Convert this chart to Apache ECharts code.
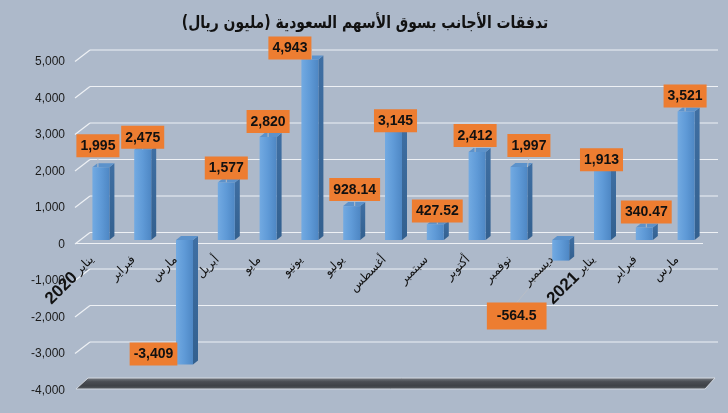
<!DOCTYPE html>
<html><head><meta charset="utf-8">
<script src="https://cdn.jsdelivr.net/npm/echarts@6/dist/echarts.min.js"></script>
<style>html,body{margin:0;padding:0;background:#ADB9CA;}#c{width:728px;height:413px;}</style>
</head><body><div id="c"></div>
<script>
const titleText = 'تدفقات الأجانب بسوق الأسهم السعودية (مليون ريال)\u200F';
const categories = ['يناير 2020','فبراير','مارس','أبريل','مايو','يونيو','يوليو','أغسطس','سبتمبر','أكتوبر','نوفمبر','ديسمبر','يناير 2021','فبراير','مارس'];
const flows = [1995, 2475, -3409, 1577, 2820, 4943, 928.14, 3145, 427.52, 2412, 1997, -564.5, 1913, 340.47, 3521];
const valueLabels = ['1,995','2,475','-3,409','1,577','2,820','4,943','928.14','3,145','427.52','2,412','1,997','-564.5','1,913','340.47','3,521'];
const yTicks = [-4000,-3000,-2000,-1000,0,1000,2000,3000,4000,5000];
const yTickLabels = ['-4,000','-3,000','-2,000','-1,000','0','1,000','2,000','3,000','4,000','5,000'];
// layout: label displacement in px from default placement
const labelShift = [[-3,-10],[0,-1],[-31,-22],[0,-3],[0,-4],[-20,0],[3,-5],[2,7],[2,-2],[-2,-5],[10,-10],[-44,42],[-1,1],[2,-4],[-1,-4]];

const BAR_W = 17, DX = 5, DY = -4;
const chart = echarts.init(document.getElementById('c'), null, {renderer:'canvas'});
const arFont = 'DejaVu Sans';

function catLabel(s) {
  const m = s.match(/^(\S+) (\d{4})$/);
  if (m) return '{y|' + m[2] + '} {m|' + m[1] + '}';
  return '{m|' + s + '}';
}

chart.setOption({
  backgroundColor: '#ADB9CA',
  animation: false,
  graphic: [{
    type: 'text', x: 365, y: 24, scaleX: 0.82, z: 10,
    style: {text: titleText, font: 'bold 17px "DejaVu Sans"', fill: '#111', align: 'center', verticalAlign: 'middle'}
  }],
  grid: {left: 80, right: 21, top: 57.5, bottom: 27, containLabel: false, outerBoundsMode: 'none'},
  xAxis: {
    type: 'category', data: categories,
    axisLine: {show: false}, axisTick: {show: false}, axisLabel: {show: false}, splitLine: {show: false}
  },
  yAxis: {
    type: 'value', min: -4000, max: 5000, interval: 1000,
    axisLine: {show: false}, axisTick: {show: false}, splitLine: {show: false}, axisLabel: {show: false}
  },
  series: [
    {
      type: 'custom', z: 0, silent: true,
      data: yTicks.map(v => [0, v]),
      renderItem: function (params, api) {
        const v = api.value(1);
        const y = api.coord([0, v])[1];
        const cs = params.coordSys;
        const L = cs.x, R = cs.x + cs.width;
        const k = yTicks.indexOf(v);
        const children = [
          {type: 'text', x: L - 15, y: y + 4.5,
           style: {text: yTickLabels[k], align: 'right', verticalAlign: 'middle',
                   font: '12px "Liberation Sans"', fill: '#1a1a1a'}}
        ];
        if (v === yTicks[0]) {
          children.push(
            {type: 'polygon', shape: {points: [[L - 4, y + 3], [L + 8, y - 8], [R + 8, y - 8], [R - 2, y + 3]]},
             style: {fill: new echarts.graphic.LinearGradient(0, 0, 0, 1, [
               {offset: 0, color: '#7A7F86'}, {offset: 0.35, color: '#4A4D53'}, {offset: 0.7, color: '#3E4146'}, {offset: 1, color: '#5C6066'}]),
               stroke: '#D3D8E0', lineWidth: 1}});
          return {type: 'group', children: children};
        }
        children.push(
          {type: 'line', shape: {x1: L - 5, y1: y + 4, x2: L + 10, y2: y - 7.5}, style: {stroke: '#EEF1F5', lineWidth: 1.2}},
          {type: 'line', shape: {x1: L + 10, y1: y - 7.5, x2: R + 11, y2: y - 7.5}, style: {stroke: '#EEF1F5', lineWidth: 1.2}}
        );
        if (v === 0) {
          children.push({type: 'line', shape: {x1: L - 5, y1: y + 3.5, x2: R - 4, y2: y + 3.5}, style: {stroke: '#EEF1F5', lineWidth: 1.2}});
        }
        return {type: 'group', children: children};
      }
    },
    {
      type: 'custom', z: 1, silent: true,
      data: flows.map((v, i) => [i, v]),
      renderItem: function (params, api) {
        const i = api.value(0), v = api.value(1);
        const top = api.coord([i, v]);
        const base = api.coord([i, 0]);
        const x0 = top[0] - BAR_W / 2, x1 = top[0] + BAR_W / 2;
        const yH = Math.min(top[1], base[1]), yL = Math.max(top[1], base[1]);
        return {type: 'group', children: [
          {type: 'polygon', shape: {points: [[x1, yH], [x1 + DX, yH + DY], [x1 + DX, yL + DY], [x1, yL]]},
           style: {fill: new echarts.graphic.LinearGradient(0, 0, 0, 1, [{offset: 0, color: '#3F6FA3'}, {offset: 1, color: '#33608F'}])}},
          {type: 'polygon', shape: {points: [[x0, yH], [x1, yH], [x1 + DX, yH + DY], [x0 + DX, yH + DY]]},
           style: {fill: '#5C92CB'}}
        ]};
      }
    },
    {
      type: 'bar', z: 2, barWidth: BAR_W,
      data: flows.map((v, i) => ({
        value: v,
        label: {position: v < 0 ? 'bottom' : 'top',
                padding: valueLabels[i] === '-564.5' ? [6, 10, 5, 10] : [4, 4, 3, 4]}
      })),
      itemStyle: {color: new echarts.graphic.LinearGradient(0, 0, 1, 0, [
        {offset: 0, color: '#72AAE2'}, {offset: 0.5, color: '#5F9AD7'}, {offset: 1, color: '#4E87C4'}])},
      label: {
        show: true, distance: 0,
        formatter: function (p) { return valueLabels[p.dataIndex]; },
        backgroundColor: '#ED7D31', color: '#111',
        fontFamily: 'Liberation Sans', fontWeight: 'bold', fontSize: 14, lineHeight: 16
      },
      labelLine: {show: true, lineStyle: {color: '#B9BEC6', width: 1}},
      labelLayout: function (p) {
        const s = labelShift[p.dataIndex];
        return {dx: s[0], dy: s[1]};
      }
    },
    {
      type: 'custom', z: 3, silent: true,
      data: categories.map((c, i) => [i, 0]),
      renderItem: function (params, api) {
        const i = api.value(0);
        const p = api.coord([i, 0]);
        return {
          type: 'text', x: p[0] - 9, y: p[1] + 18, rotation: Math.PI / 4,
          style: {
            text: catLabel(categories[i]), align: 'right', verticalAlign: 'middle',
            rich: {
              m: {fontFamily: arFont, fontSize: 12, fill: '#111', color: '#111'},
              y: {fontFamily: 'Liberation Sans', fontSize: 17, fontWeight: 'bold', fill: '#111', color: '#111'}
            }
          }
        };
      }
    }
  ]
});
</script></body></html>
